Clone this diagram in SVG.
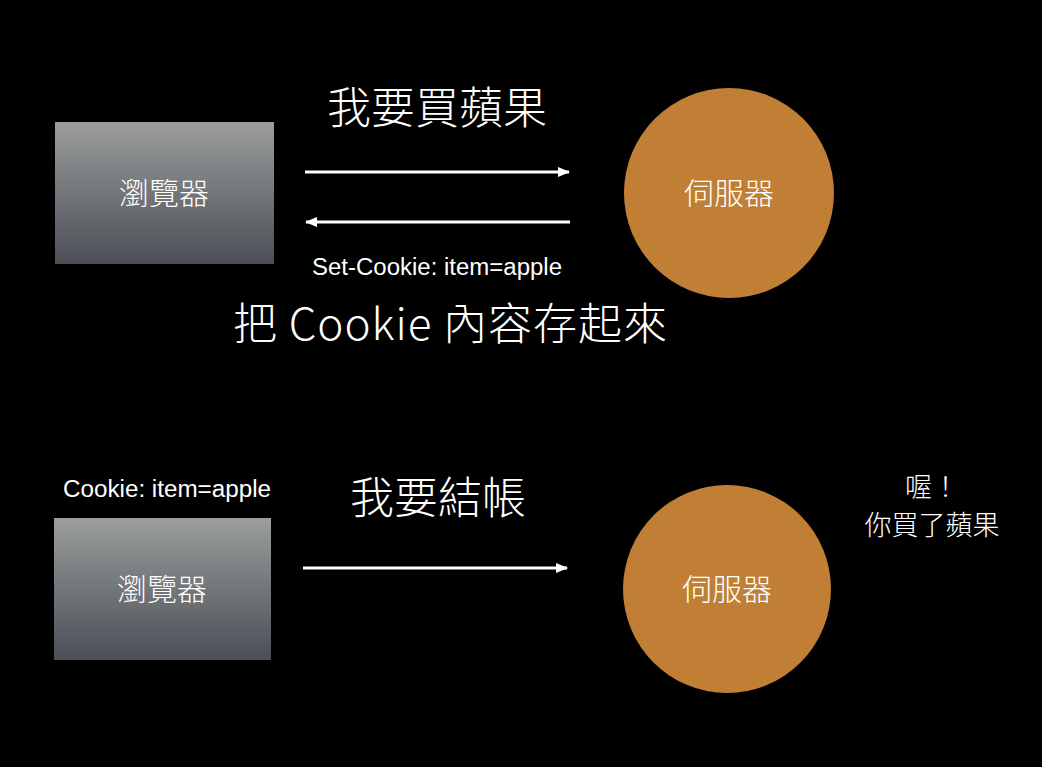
<svg xmlns="http://www.w3.org/2000/svg" width="1042" height="767" viewBox="0 0 1042 767">
<defs>
<linearGradient id="boxg" x1="0" y1="0" x2="0" y2="1">
<stop offset="0" stop-color="#9b9e9c"/>
<stop offset="1" stop-color="#4b4e56"/>
</linearGradient>
<marker id="ah" markerWidth="12" markerHeight="10" refX="11" refY="5" orient="auto" markerUnits="userSpaceOnUse">
<path d="M0,0 L12,5 L0,10 Z" fill="#ffffff"/>
</marker>
<style>
.t{fill:#ffffff;font-family:"Noto Sans CJK TC","Noto Sans CJK SC",sans-serif;font-weight:300;text-anchor:middle}
.l{fill:#ffffff;font-family:"Liberation Sans","Noto Sans",sans-serif;text-anchor:middle}
.box{fill:url(#boxg)}
.srv{fill:#c07f35}
.c{stroke:#ffffff;stroke-width:3;fill:none;marker-end:url(#ah)}
</style>
</defs>
<rect width="1042" height="767" fill="#000000"/>
<g id="browser1"><rect class="box" x="55" y="122" width="219" height="142"/><text class="t" x="164" y="204" font-size="30">瀏覽器</text></g>
<g id="server1"><circle class="srv" cx="729" cy="193" r="105"/><text class="t" x="729" y="204" font-size="30">伺服器</text></g>
<g id="browser2"><rect class="box" x="54" y="518" width="217" height="142"/><text class="t" x="162" y="600" font-size="30">瀏覽器</text></g>
<g id="server2"><circle class="srv" cx="727" cy="589" r="104"/><text class="t" x="727" y="600" font-size="30">伺服器</text></g>
<g id="connectors">
<line class="c" x1="305" y1="172" x2="569" y2="172"/>
<line class="c" x1="570" y1="222" x2="306" y2="222"/>
<line class="c" x1="303" y1="568" x2="567" y2="568"/>
</g>
<g id="labels">
<text class="t" x="437" y="124" font-size="44">我要買蘋果</text>
<text class="l" x="437" y="275" font-size="23" textLength="250" lengthAdjust="spacingAndGlyphs">Set-Cookie: item=apple</text>
<text class="t" x="450" y="340" font-size="44" textLength="434" lengthAdjust="spacing">把 Cookie 內容存起來</text>
<text class="t" x="438" y="514" font-size="44">我要結帳</text>
<text class="l" x="167" y="497" font-size="23" textLength="208" lengthAdjust="spacingAndGlyphs">Cookie: item=apple</text>
<text class="t" x="932" y="497" font-size="27">喔！</text>
<text class="t" x="932" y="535" font-size="27">你買了蘋果</text>
</g>
</svg>
